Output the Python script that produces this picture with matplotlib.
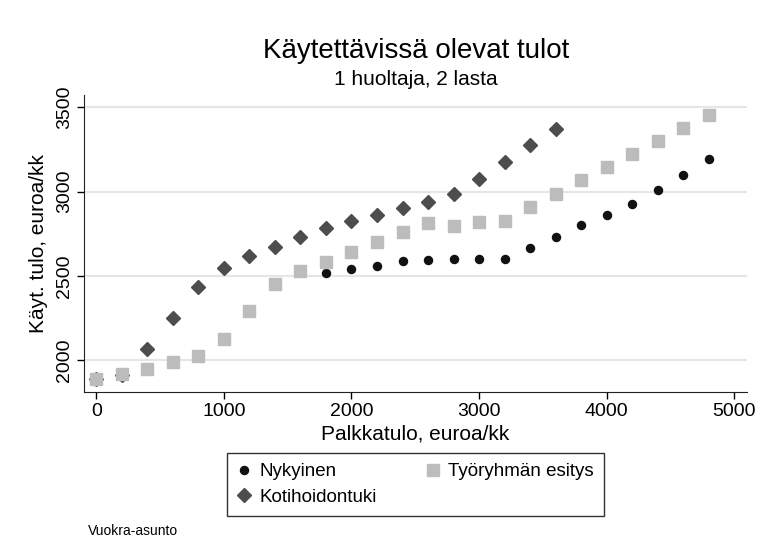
import matplotlib
matplotlib.use("Agg")
import matplotlib.pyplot as plt

plt.rcParams['font.family'] = ['Liberation Sans', 'DejaVu Sans']

# palkkatulo (euroa/kk) ja käytettävissä olevat tulot eri malleilla
palkka = [0, 200, 400, 600, 800, 1000, 1200, 1400, 1600, 1800, 2000, 2200, 2400,
          2600, 2800, 3000, 3200, 3400, 3600, 3800, 4000, 4200, 4400, 4600, 4800]

nykyinen = [1887, 1905, 1948, 1990, 2024, 2123, 2292, 2450, 2526, 2518, 2540, 2560, 2590,
            2595, 2600, 2600, 2600, 2663, 2732, 2800, 2863, 2925, 3010, 3099, 3196]

tyoryhma = [1887, 1915, 1948, 1990, 2024, 2123, 2292, 2450, 2526, 2582, 2643, 2698, 2762,
            2811, 2798, 2817, 2827, 2911, 2986, 3070, 3145, 3224, 3299, 3377, 3452]

# kotihoidontuki loppuu 3600 euron kohdalla
palkka_kht = palkka[:19]
kotihoidontuki = [1887, 1910, 2067, 2252, 2431, 2546, 2617, 2673, 2728, 2784, 2827, 2861, 2903,
                  2937, 2984, 3076, 3174, 3274, 3369]

fig = plt.figure(figsize=(7.6, 5.55), dpi=100)
ax = fig.add_axes([0.1105, 0.2937, 0.872, 0.535])

ax.plot(palkka, nykyinen, 'o', color='#111111', markersize=5.8, label='Nykyinen', zorder=3)
ax.plot(palkka_kht, kotihoidontuki, 'D', color='#4d4d4d', markersize=6.8,
        label='Kotihoidontuki', zorder=3)
ax.plot(palkka, tyoryhma, 's', color='#bcbcbc', markersize=8, label='Työryhmän esitys', zorder=4)

ax.set_xlim(-96, 5097)
ax.set_ylim(1810, 3573)
ax.set_xticks([0, 1000, 2000, 3000, 4000, 5000])
ax.set_yticks([2000, 2500, 3000, 3500])
ax.set_yticklabels(['2000', '2500', '3000', '3500'], rotation=90, va='center')
ax.tick_params(labelsize=14, length=5, width=1, direction='out', pad=3)

ax.grid(axis='y', color='#e6e6e6', linewidth=1.5)
ax.set_axisbelow(True)
for side in ['top', 'right']:
    ax.spines[side].set_visible(False)
ax.spines['left'].set_color('#222222')
ax.spines['bottom'].set_color('#222222')

ax.set_xlabel('Palkkatulo, euroa/kk', fontsize=15, labelpad=3)
ax.set_ylabel('Käyt. tulo, euroa/kk', fontsize=15, labelpad=6)

fig.text(0.547, 0.908, 'Käytettävissä olevat tulot', fontsize=20, ha='center', va='center')
fig.text(0.547, 0.857, '1 huoltaja, 2 lasta', fontsize=15, ha='center', va='center')

handles, labels = ax.get_legend_handles_labels()
leg = fig.legend(handles, labels,
                 loc='upper center', bbox_to_anchor=(0.547, 0.184), ncol=2,
                 fontsize=13.5, frameon=True, fancybox=False, handlelength=0.7,
                 handletextpad=0.5, columnspacing=2.6, borderpad=0.55, labelspacing=0.45,
                 borderaxespad=0)
leg.get_frame().set_edgecolor('black')
leg.get_frame().set_linewidth(1)

fig.text(0.116, 0.043, 'Vuokra-asunto', fontsize=10, ha='left', va='center')

fig.savefig('out.png', dpi=100)
